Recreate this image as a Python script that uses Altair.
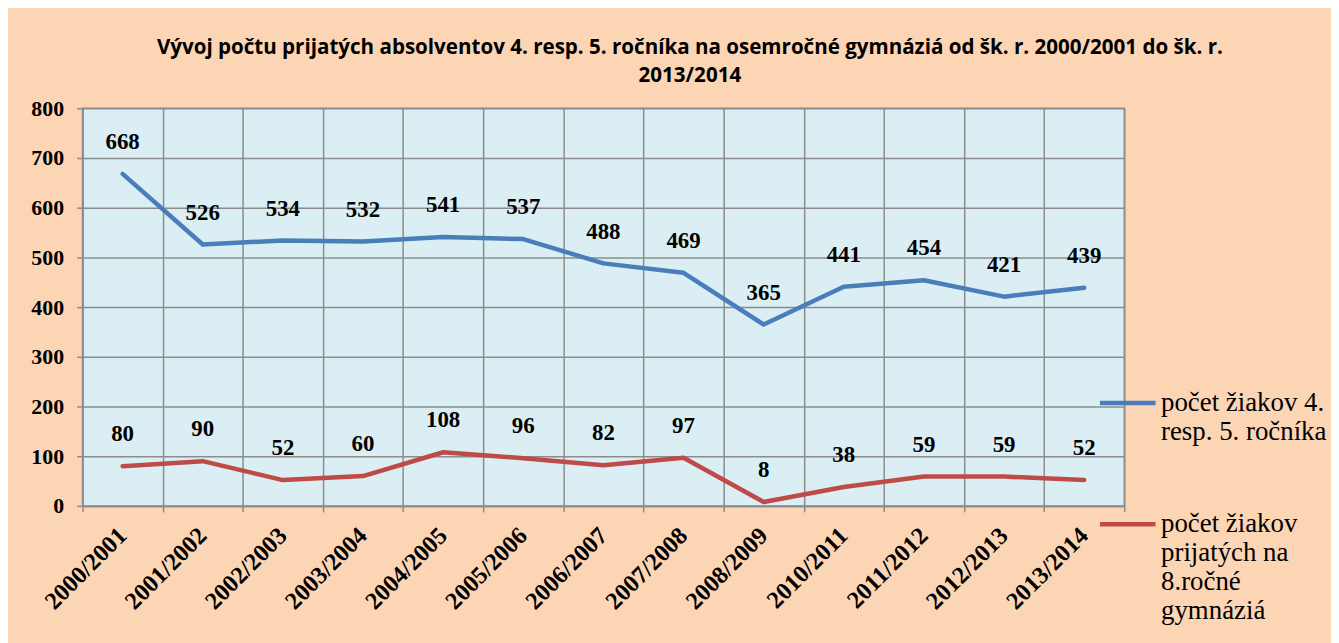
import altair as alt
import pandas as pd

years = ["2000/2001", "2001/2002", "2002/2003", "2003/2004", "2004/2005", "2005/2006",
         "2006/2007", "2007/2008", "2008/2009", "2010/2011", "2011/2012", "2012/2013", "2013/2014"]
pupils_4_5 = [668, 526, 534, 532, 541, 537, 488, 469, 365, 441, 454, 421, 439]
accepted_8y = [80, 90, 52, 60, 108, 96, 82, 97, 8, 38, 59, 59, 52]
series_names = ["počet žiakov 4.\nresp. 5. ročníka",
                "počet žiakov\nprijatých na\n8.ročné\ngymnáziá"]
series_colors = ["#4A7EBB", "#BE4B48"]
y_ticks = [0, 100, 200, 300, 400, 500, 600, 700, 800]
title_lines = ["Vývoj počtu prijatých absolventov 4. resp. 5. ročníka na osemročné gymnáziá od šk. r. 2000/2001 do šk. r.",
               "2013/2014"]

rows = []
for name, vals in zip(series_names, [pupils_4_5, accepted_8y]):
    for yr, v in zip(years, vals):
        rows.append({"rok": yr, "seria": name, "hodnota": v})
df = pd.DataFrame(rows)

SERIF = "Liberation Serif"
GRID = "#8C8C8C"

x_enc = alt.X(
    "rok:N", sort=years, bandPosition=0.5,
    scale=alt.Scale(type="band", paddingInner=0, paddingOuter=0),
    axis=alt.Axis(title=None, labelAngle=-45, labelFont=SERIF, labelFontSize=24.5,
                  labelFontWeight="bold", labelColor="black", labelPadding=20,
                  tickBand="extent", tickSize=6, tickColor=GRID, tickWidth=1.5,
                  domainColor=GRID, domainWidth=1.5, grid=True, gridColor=GRID,
                  gridWidth=1.5, gridOpacity=1, labelAlign="right", labelBaseline="middle"),
)
y_enc = alt.Y(
    "hodnota:Q",
    scale=alt.Scale(domain=[0, 800], nice=False),
    axis=alt.Axis(title=None, values=y_ticks, labelFont=SERIF, labelFontSize=22,
                  labelFontWeight="bold", labelColor="black", labelPadding=13,
                  tickSize=6, tickColor=GRID, tickWidth=1.5, domainColor=GRID,
                  domainWidth=1.5, grid=True, gridColor=GRID, gridWidth=1.5, gridOpacity=1),
)

lines = alt.Chart(df).mark_line(strokeWidth=4.5, strokeJoin="round", strokeCap="round").encode(
    x=x_enc, y=y_enc,
    color=alt.Color("seria:N", sort=series_names,
                    scale=alt.Scale(domain=series_names, range=series_colors),
                    legend=alt.Legend(title=None, orient="none", legendX=1021, legendY=266,
                                      symbolType="stroke", symbolSize=3136,
                                      symbolStrokeWidth=4.5, labelFont=SERIF,
                                      labelFontSize=27, labelColor="black",
                                      labelLimit=400, labelOffset=3, rowPadding=49,
                                      labelExpr="split(datum.label, '\\n')",
                                      labelBaseline="middle", padding=0)),
)

labels = alt.Chart(df).mark_text(font=SERIF, fontSize=23, fontWeight="bold",
                                 color="black", dy=-32, baseline="middle").encode(
    x=x_enc, y=y_enc, text=alt.Text("hodnota:Q"), detail="seria:N"
)

chart = alt.layer(lines, labels).properties(
    width=1048, height=400,
    padding={"left": 75, "top": 99, "right": 208, "bottom": 136},
    autosize=alt.AutoSizeParams(type="none"),
    background="#FCD5B5",
    title=alt.TitleParams(text=title_lines, font="Open Sans", fontSize=20.7,
                          fontWeight="bold", color="black", anchor="middle",
                          dx=87, offset=11, lineHeight=28),
).configure_view(fill="#DBEEF4", stroke=GRID, strokeWidth=1.5)

chart.save("out.html", embed_options={"renderer": "svg", "actions": False})
